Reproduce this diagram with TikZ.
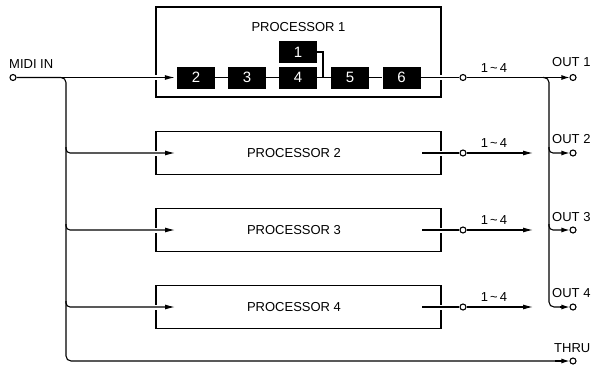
\documentclass[tikz,border=0pt]{standalone}
\usepackage{fontspec}
\setmainfont{Liberation Sans}
\usetikzlibrary{arrows.meta}
\begin{document}
\begin{tikzpicture}[x=1pt,y=-1pt,
  wire/.style={line width=1.1pt},
  inarrow/.style={wire,-{Latex[length=10pt,width=5pt]}},
  outarrow/.style={wire,-{Latex[length=8pt,width=5pt]}},
  procbox/.style={draw,line width=1.1pt,minimum width=285pt,inner sep=0pt},
  blk/.style={fill=black,text=white,minimum width=38pt,minimum height=22pt,inner sep=0pt,font=\fontsize{15}{17}\selectfont},
  jack/.style={circle,draw,fill=white,line width=1.1pt,minimum size=6pt,inner sep=0pt},
  lbl/.style={font=\fontsize{13}{15}\selectfont,inner sep=0pt},
  gap/.style={fill=white,minimum width=4pt,minimum height=5pt,inner sep=0pt}
]
\useasboundingbox (0,0) rectangle (596,364);

% processor frames
\node[procbox,minimum height=90pt] (p1) at (298.5,52) {};
\node[procbox,minimum height=43pt] (p2) at (298.5,153) {};
\node[procbox,minimum height=43pt] (p3) at (298.5,230) {};
\node[procbox,minimum height=43pt] (p4) at (298.5,307) {};
\node[lbl] (t1) at (298.5,27) {PROCESSOR 1};
\node[lbl] (t2) at (294,153) {PROCESSOR 2};
\node[lbl] (t3) at (294,230) {PROCESSOR 3};
\node[lbl] (t4) at (294,307) {PROCESSOR 4};

% breaks in the frame edges where the signal lines pass
\foreach \y in {77,153,230,307}{
  \node[gap] at (156,\y) {};
  \node[gap] at (441,\y) {};
}

% internal chain of processor 1
\node[blk] (b2) at (196,77.5) {2};
\node[blk] (b3) at (247,77.5) {3};
\node[blk] (b4) at (298,77.5) {4};
\node[blk] (b5) at (350,77.5) {5};
\node[blk] (b6) at (401.5,77.5) {6};
\node[blk] (b1) at (298,52) {1};
\draw[wire] (b2) -- (b3);
\draw[wire] (b3) -- (b4);
\draw[wire] (b4) -- (b5);
\draw[wire] (b5) -- (b6);
\draw[wire] (b1.east) -| (323,77.5);

% jacks
\node[jack] (mi) at (13,77.5) {};
\node[jack] (c1) at (463,77.5) {};
\node[jack] (c2) at (463,153) {};
\node[jack] (c3) at (463,230) {};
\node[jack] (c4) at (463,307) {};
\node[jack] (o1) at (573,77.5) {};
\node[jack] (o2) at (573,153) {};
\node[jack] (o3) at (573,230) {};
\node[jack] (o4) at (573,307) {};
\node[jack] (th) at (573,361) {};

% input distribution
\coordinate (ib) at (66,77.5);
\coordinate (ib2) at (66,153);
\coordinate (ib3) at (66,230);
\coordinate (ib4) at (66,307);
\coordinate (ibt) at (66,361);
\coordinate (a2) at (175,153);
\coordinate (a3) at (175,230);
\coordinate (a4) at (175,307);
\draw[inarrow,shorten >=2pt] (mi) -- (b2);
\draw[wire,rounded corners=5pt] (mi.east) -- (ib) -- (ibt) -- (555,361);
\draw[outarrow] (555,361) -- (th.west);
\draw[inarrow,rounded corners=4pt] ([yshift=6pt]ib2) -- (ib2) -- (a2);
\draw[inarrow,rounded corners=4pt] ([yshift=6pt]ib3) -- (ib3) -- (a3);
\draw[inarrow,rounded corners=4pt] ([yshift=6pt]ib4) -- (ib4) -- (a4);

% processor outputs
\coordinate (s2) at (422,153);
\coordinate (s3) at (422,230);
\coordinate (s4) at (422,307);
\coordinate (e2) at (533,153);
\coordinate (e3) at (533,230);
\coordinate (e4) at (533,307);
\draw[wire] (b6) -- (c1);
\draw[wire] (s2) -- (c2);
\draw[wire] (s3) -- (c3);
\draw[wire] (s4) -- (c4);
\draw[inarrow] (c2) -- (e2);
\draw[inarrow] (c3) -- (e3);
\draw[inarrow] (c4) -- (e4);
\foreach \c in {c1,c2,c3,c4}{
  \node[lbl,anchor=south] at ([xshift=31pt,yshift=5pt]\c) {1\hspace{2pt}\char"7E\hspace{2pt}4};
}

% output bus
\coordinate (ob) at (549,77.5);
\coordinate (ob2) at (549,153);
\coordinate (ob3) at (549,230);
\coordinate (ob4) at (549,307);
\draw[outarrow] (c1) -- (o1);
\draw[wire,rounded corners=5pt] (543,77.5) -- (ob) -- (ob4) -- (562,307);
\draw[outarrow] (560,307) -- (o4.west);
\draw[outarrow,rounded corners=4pt] ([yshift=6pt]ob2) -- (ob2) -- (o2.west);
\draw[outarrow,rounded corners=4pt] ([yshift=6pt]ob3) -- (ob3) -- (o3.west);

% jack labels
\node[lbl,anchor=west] (lmi) at (9,64) {MIDI IN};
\node[lbl,anchor=west] (l1) at (552,62) {OUT 1};
\node[lbl,anchor=west] (l2) at (552,139) {OUT 2};
\node[lbl,anchor=west] (l3) at (552,217) {OUT 3};
\node[lbl,anchor=west] (l4) at (552,293) {OUT 4};
\node[lbl,anchor=west] (lt) at (554,348) {THRU};
\end{tikzpicture}
\end{document}
